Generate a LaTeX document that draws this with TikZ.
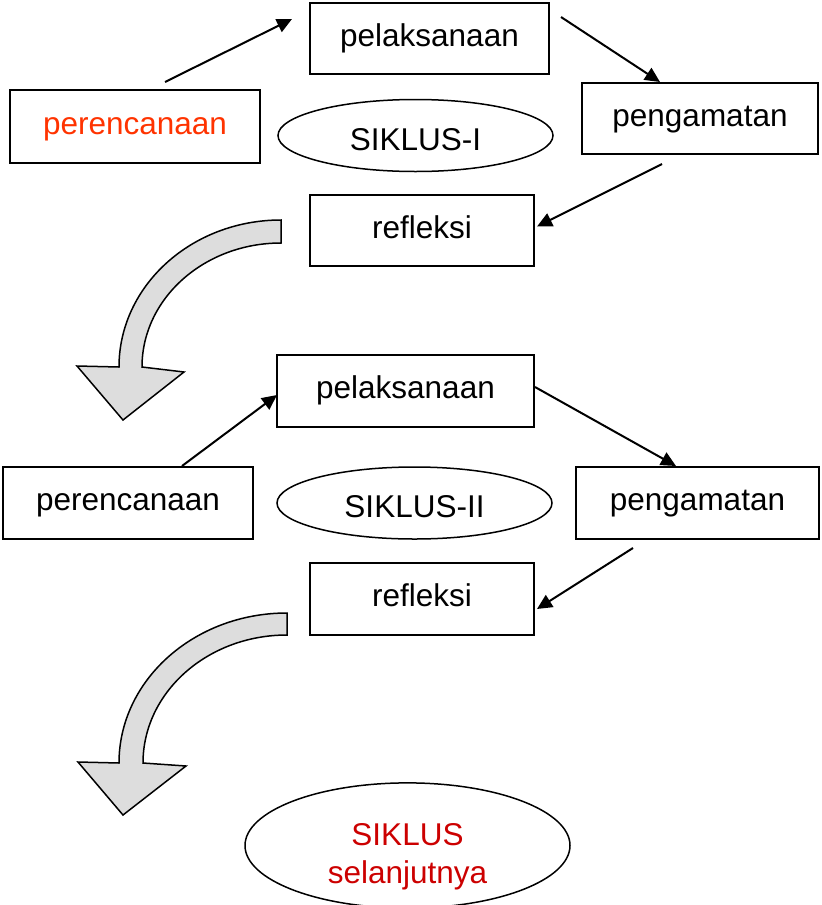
\documentclass[tikz,border=0pt]{standalone}
\usepackage{fontspec}
\setmainfont{Liberation Sans}
\usetikzlibrary{arrows.meta,calc,shapes.geometric}
\definecolor{planred}{HTML}{FF3300}
\definecolor{nextred}{HTML}{CC0000}
\definecolor{bandgray}{HTML}{DDDDDD}
\begin{document}
\begin{tikzpicture}[x=0.5pt,y=-0.5pt,
  every node/.style={font=\fontsize{15.75}{19}\selectfont, inner sep=0pt},
  stagebox/.style={draw, line width=1pt, rectangle, align=center, text height=11pt, text depth=3.5pt},
  cyc/.style={draw, line width=0.75pt, ellipse, align=center},
  cyclabel/.style={text height=14.5pt, text depth=0pt},
  arr/.style={line width=1pt, -{Triangle[length=7.5pt,width=7pt]}},
  band/.style={draw, line width=0.75pt, fill=bandgray, line join=miter}]
\useasboundingbox (0,0) rectangle (821,905);

% cycle I
\node[stagebox, minimum width=125pt, minimum height=36.5pt, text=planred] (p1) at (135,126.5) {perencanaan};
\node[stagebox, minimum width=119.5pt, minimum height=35.5pt] (l1) at (429.5,38.5) {pelaksanaan};
\node[stagebox, minimum width=118pt, minimum height=35.5pt] (g1) at (700,118.5) {pengamatan};
\node[stagebox, minimum width=112pt, minimum height=35.5pt] (r1) at (422,230.5) {refleksi};
\node[cyc, cyclabel, minimum width=137.5pt, minimum height=36pt] (e1) at (415.5,135.5) {SIKLUS-I};

\draw[arr] ($(p1.north west)+(156,-7)$) -- ($(l1.west)+(-17,-19.5)$);
\draw[arr] ($(l1.north east)+(11,15)$) -- ($(g1.north)+(-40,0)$);
\draw[arr] ($(g1.south)+(-38,9)$) -- ($(r1.east)+(2,-4)$);

% big curved arrow 1
\draw[band] (281,220) arc[start angle=270,end angle=180,x radius=162,y radius=147]
  -- (77,366) -- (123,420) -- (184,372) -- (142,367)
  arc[start angle=180,end angle=270,x radius=139,y radius=124] -- cycle;

% cycle II
\node[stagebox, minimum width=125pt, minimum height=36pt] (p2) at (128,503) {perencanaan};
\node[stagebox, minimum width=128.5pt, minimum height=36pt] (l2) at (405.5,391) {pelaksanaan};
\node[stagebox, minimum width=121.5pt, minimum height=36pt] (g2) at (697.5,503) {pengamatan};
\node[stagebox, minimum width=112pt, minimum height=36pt] (r2) at (422,599) {refleksi};
\node[cyc, cyclabel, minimum width=137.5pt, minimum height=36pt] (e2) at (414.5,503) {SIKLUS-II};

\draw[arr] ($(p2.north)+(54,0)$) -- ($(l2.west)+(1,4)$);
\draw[arr] ($(l2.east)+(0,-4)$) -- ($(g2.north)+(-21.5,0)$);
\draw[arr] ($(g2.south)+(-64.5,8)$) -- ($(r2.east)+(2,10)$);

% big curved arrow 2
\draw[band] (287,613) arc[start angle=270,end angle=180,x radius=168,y radius=150]
  -- (78,762) -- (123,815) -- (186,766) -- (143,763)
  arc[start angle=180,end angle=270,x radius=144,y radius=128] -- cycle;

% next cycle
\node[cyc, minimum width=162.5pt, minimum height=57.5pt, text=nextred] (e3) at (407.5,845.5) {\rule{0pt}{22pt}SIKLUS\\selanjutnya};
\end{tikzpicture}
\end{document}
